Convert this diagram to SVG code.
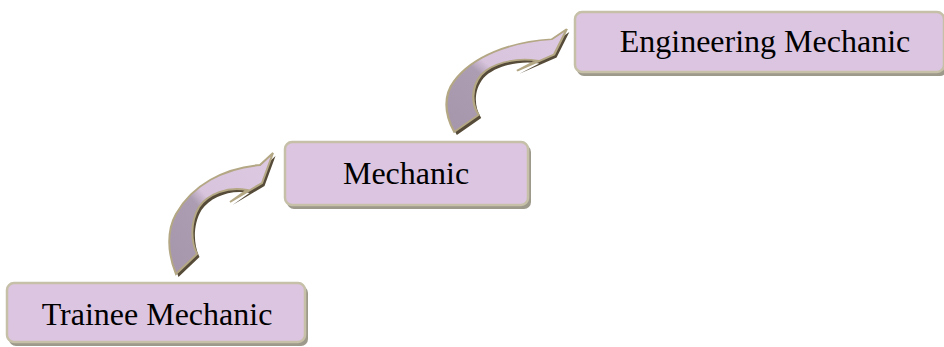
<svg xmlns="http://www.w3.org/2000/svg" width="944" height="347" viewBox="0 0 944 347">
<defs>
<linearGradient id="ag" x1="0" y1="1" x2="1" y2="0">
<stop offset="0" stop-color="#a696ac"/>
<stop offset="0.42" stop-color="#ac9db2"/>
<stop offset="0.5" stop-color="#d8c4dd"/>
<stop offset="1" stop-color="#dec9e3"/>
</linearGradient>
<path id="arr" d="M107,1 L96,31 L64,50 L81,38 C62,34 42,42 33,55 C24,70 25,90 31,102 L10,122 C1,100 1,78 10,62 C26,33 58,16 94,13 Z"/>
</defs>
<style>
.box{fill:#dcc5e0;stroke:#c6c0a8;stroke-width:2.5}
.shd{fill:#9d998b}
.lbl{font-family:"Liberation Serif","Times New Roman",serif;font-size:32px;fill:#000}
.ash{fill:#564b38}
.abody{fill:url(#ag);stroke:#b3a784;stroke-width:2;stroke-linejoin:miter}
</style>
<rect width="944" height="347" fill="#ffffff"/>
<g id="connectors">
<g transform="translate(166,152)">
<use href="#arr" class="ash" transform="translate(2.5,3)"/>
<use href="#arr" class="abody"/>
</g>
<g transform="translate(442.7,28.2) scale(1.16,0.85)">
<use href="#arr" class="ash" transform="translate(2.2,3.5)"/>
<use href="#arr" class="abody" vector-effect="non-scaling-stroke"/>
</g>
</g>
<g id="trainee">
<rect class="shd" x="9" y="286" width="299" height="60" rx="7"/>
<rect class="box" x="7" y="283" width="298" height="59" rx="7"/>
<text class="lbl" x="157" y="325" text-anchor="middle">Trainee Mechanic</text>
</g>
<g id="mechanic">
<rect class="shd" x="287" y="145" width="244" height="64" rx="7"/>
<rect class="box" x="285" y="142" width="243" height="63" rx="7"/>
<text class="lbl" x="406" y="184" text-anchor="middle">Mechanic</text>
</g>
<g id="engineering">
<rect class="shd" x="577" y="15" width="370" height="61" rx="7"/>
<rect class="box" x="575" y="12" width="369" height="60" rx="7"/>
<text class="lbl" x="765" y="52" text-anchor="middle">Engineering Mechanic</text>
</g>
</svg>
